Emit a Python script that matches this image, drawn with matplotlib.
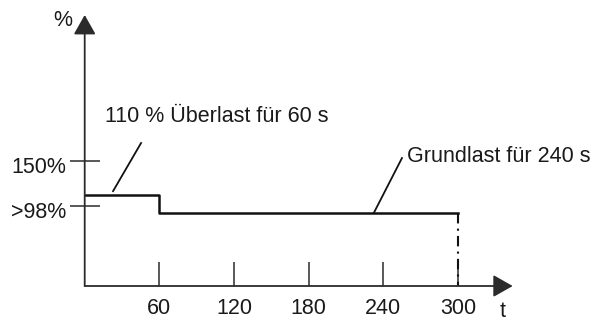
import matplotlib
matplotlib.use("Agg")
import matplotlib.pyplot as plt
from matplotlib.transforms import ScaledTranslation

plt.rcParams["font.family"] = ["Liberation Sans", "DejaVu Sans"]

# load profile (schematic)
t_step = [0, 60, 300]
load_step = [110, 90, 90]
t_end = 300

x_ticks = [60, 120, 180, 240, 300]
x_labels = ["60", "120", "180", "240", "300"]
y_ticks = [150, 98]
y_labels = ["150%", ">98%"]

txt_over = "110 % Überlast für 60 s"
txt_base = "Grundlast für 240 s"

fig = plt.figure(figsize=(5.92, 3.23), dpi=100)
W, H = 592, 323
ax = fig.add_axes([84.7 / W, (H - 286) / H, (512.7 - 84.7) / W, (286 - 15) / H])
ax.set_xlim(0, 344)
ax.set_ylim(4.6, 320)
for s in ax.spines.values():
    s.set_visible(False)

axcol = "#2b2b2b"
fs = 15.5

# axes with arrow heads
arr = dict(arrowstyle="-|>,head_length=1.2,head_width=0.68", lw=1.3,
           color=axcol, shrinkA=0, shrinkB=0, mutation_scale=10)
ax.annotate("", xy=(344, 4.6), xytext=(0, 4.6), arrowprops=arr, annotation_clip=False)
ax.annotate("", xy=(0, 320), xytext=(0, 4.6), arrowprops=arr, annotation_clip=False)

# step profile
ax.step(t_step, load_step, where="post", color="#111111", lw=1.8, clip_on=False)
ax.plot([t_end, t_end], [load_step[-1], 4.6], color="#111111", lw=1.5,
        linestyle=(0, (5, 2.5, 1, 2.5)), clip_on=False)

# ticks
ax.set_xticks(x_ticks)
ax.set_xticklabels(x_labels, fontsize=fs, color="#1a1a1a")
ax.tick_params(axis="x", direction="in", length=17, width=1.1, color=axcol, pad=9)
ax.set_yticks(y_ticks)
ax.set_yticklabels(y_labels, fontsize=fs, color="#1a1a1a")
ax.tick_params(axis="y", direction="inout", length=22, width=1.1, color=axcol, pad=2)
for lab in ax.get_yticklabels():
    lab.set_transform(lab.get_transform() + ScaledTranslation(0, -0.04, fig.dpi_scale_trans))

# axis labels
ax.text(-18, 314, "%", fontsize=fs, ha="center", va="center", color="#1a1a1a")
ax.text(336, -31, "t", fontsize=fs, ha="center", va="baseline", color="#1a1a1a")

# annotations
ax.plot([22.8, 45.3], [115, 171], color="#111111", lw=1.3, clip_on=False)
ax.text(16.3, 195.7, txt_over, fontsize=fs, ha="left", va="baseline", color="#1a1a1a")
ax.plot([232.5, 255], [90, 153.5], color="#111111", lw=1.3, clip_on=False)
ax.text(259, 148.5, txt_base, fontsize=fs, ha="left", va="baseline", color="#1a1a1a")

fig.savefig("out.png", dpi=100)
